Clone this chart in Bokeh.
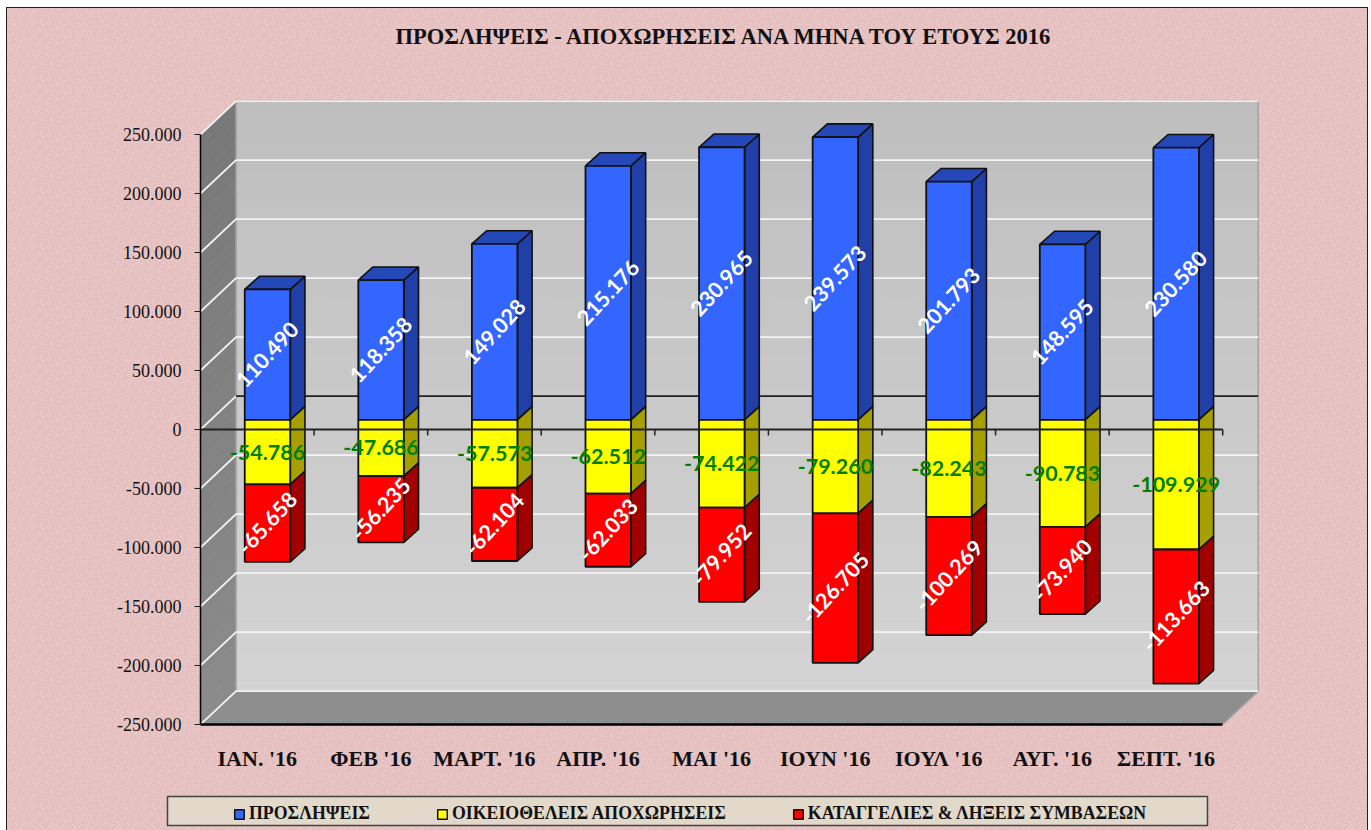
import math
from urllib.parse import quote
from bokeh.plotting import figure
from bokeh.layouts import column
from bokeh.models import Legend, LegendItem, FixedTicker, Title
from bokeh.core.properties import value
from bokeh.embed import file_html
from bokeh.resources import INLINE

title_text = "ΠΡΟΣΛΗΨΕΙΣ - ΑΠΟΧΩΡΗΣΕΙΣ ΑΝΑ ΜΗΝΑ ΤΟΥ ΕΤΟΥΣ 2016"
months = ["ΙΑΝ. '16", "ΦΕΒ '16", "ΜΑΡΤ. '16", "ΑΠΡ. '16", "ΜΑΙ '16", "ΙΟΥΝ '16", "ΙΟΥΛ '16", "ΑΥΓ. '16", "ΣΕΠΤ. '16"]
hires = [110490, 118358, 149028, 215176, 230965, 239573, 201793, 148595, 230580]
resign = [-54786, -47686, -57573, -62512, -74422, -79260, -82243, -90783, -109929]
fired = [-65658, -56235, -62104, -62033, -79952, -126705, -100269, -73940, -113663]
y_ticks = [-250000, -200000, -150000, -100000, -50000, 0, 50000, 100000, 150000, 200000, 250000]
y_labels = ["-250.000", "-200.000", "-150.000", "-100.000", "-50.000", "0", "50.000", "100.000", "150.000", "200.000", "250.000"]
names = ["ΠΡΟΣΛΗΨΕΙΣ", "ΟΙΚΕΙΟΘΕΛΕΙΣ ΑΠΟΧΩΡΗΣΕΙΣ", "ΚΑΤΑΓΓΕΛΙΕΣ & ΛΗΞΕΙΣ ΣΥΜΒΑΣΕΩΝ"]
colors = ["#3366ff", "#ffff00", "#ff0000"]

PX_X = 113.58          # pixels per category
PX_Y = 1.18 / 1000     # pixels per unit of value
DX = 35.5 / PX_X       # depth of the box in x units
DY = 33.3 / PX_Y       # depth of the box in y units
BAR_W = 45.5 / PX_X
BAR_DX = 14.7 / PX_X
BAR_DY = 13.2 / PX_Y
BAR_OFF_X = 10.2 / PX_X
BAR_OFF_Y = 9.7 / PX_Y

OX, OY = 7, 8          # where the panel starts on the page
LEFT, RIGHT, TOP, BOTTOM = 200, 1259, 100, 724
FIG_W, FIG_H = 1360, 780
x_end = (RIGHT - LEFT) / PX_X
y_end = -250000 + (BOTTOM - TOP) / PX_Y

p = figure(width=FIG_W, height=FIG_H, output_backend="svg", toolbar_location=None,
           x_range=(0, x_end), y_range=(-250000, y_end), frame_align=False,
           min_border_left=LEFT - OX, min_border_right=OX + FIG_W - RIGHT,
           min_border_top=TOP - OY, min_border_bottom=OY + FIG_H - BOTTOM,
           background_fill_alpha=0, border_fill_alpha=0, outline_line_alpha=0)

p.grid.visible = False
p.title.text = title_text
p.title.align = "left"
p.title.offset = 195
p.title.vertical_align = "top"
p.title.standoff = 10
p.title.text_font = "Liberation Serif"
p.title.text_font_size = "22.5px"
p.title.text_color = "#111111"
# an empty title between the real one and the frame lifts the real one
p.add_layout(Title(text=" ", text_font_size="39px", standoff=0), "above")

ax = p.yaxis[0]
ax.ticker = FixedTicker(ticks=y_ticks)
ax.major_label_overrides = dict(zip(y_ticks, y_labels))
ax.bounds = (-250000, 250000)
ax.major_label_text_font = "Liberation Serif"
ax.major_label_text_font_size = "18px"
ax.major_label_text_color = "#111111"
ax.major_tick_out = 6
ax.major_tick_in = 0
ax.minor_tick_line_alpha = 0
ax.major_label_standoff = 13
ax.axis_line_width = 1.5
ax.major_tick_line_color = "#222222"

bx = p.xaxis[0]
centers = [i + 0.5 for i in range(len(months))]
bx.ticker = FixedTicker(ticks=centers)
bx.major_label_overrides = dict(zip(centers, months))
bx.bounds = (0, len(months))
bx.major_tick_out = 0
bx.major_tick_in = 0
bx.minor_tick_line_alpha = 0
bx.axis_line_width = 2.5
bx.major_label_standoff = 21
bx.major_label_text_font = "Liberation Serif"
bx.major_label_text_font_style = "bold"
bx.major_label_text_font_size = "22px"
bx.major_label_text_color = "#111111"

n = len(months)
y0, y1 = -250000, 250000
BANDS = 60

def mix(a, b, t):
    return "#%02x%02x%02x" % tuple(round(a[k] + (b[k] - a[k]) * t) for k in range(3))

def band_colors(top, bot):
    return [mix(top, bot, (k + 0.5) / BANDS) for k in range(BANDS)]

edges = [y0 + (y1 - y0) * k / BANDS for k in range(BANDS + 1)]
tops, bots = edges[:0:-1], edges[-2::-1]

# back wall
cols = band_colors((0xbe, 0xbe, 0xbe), (0xd4, 0xd4, 0xd4))
p.quad(left=DX, right=DX + n, bottom=[b + DY for b in bots], top=[t + DY for t in tops],
       fill_color=cols, line_color=cols, line_width=0.6)
# side wall
cols = band_colors((0x78, 0x78, 0x78), (0x8b, 0x8b, 0x8b))
p.patches(xs=[[0, DX, DX, 0] for _ in tops],
          ys=[[t, t + DY, b + DY, b] for t, b in zip(tops, bots)],
          fill_color=cols, line_color=cols, line_width=0.6)
# floor
p.patch([0, n, n + DX, DX], [y0, y0, y0 + DY, y0 + DY], fill_color="#8e8e8e", line_color=None)
# pale edges of the box
p.line([n, n + DX, n + DX, DX, DX, n + DX], [y0, y0 + DY, y1 + DY, y1 + DY, y0 + DY, y0 + DY],
       line_color="#a3a3a3", line_width=1.5)
# grid lines
grid_rows = [t for t in y_ticks if t != 0]
p.multi_line(xs=[[0, DX, DX + n] for _ in grid_rows],
             ys=[[t, t + DY, t + DY] for t in grid_rows],
             line_color="#f4f4f4", line_width=1.8)
p.multi_line(xs=[[0, DX], [DX, DX + n]], ys=[[0, DY], [DY, DY]],
             line_color=["#f4f4f4", "#222222"], line_width=1.8)

# bars
series = [(hires, [0] * n, colors[0], "#2040a8"),
          (resign, [0] * n, colors[1], "#a5a000"),
          (fired, resign, colors[2], "#a00000")]
for idx, (vals, base, front, side) in enumerate(series):
    xl = [i + BAR_OFF_X + 0.5 - BAR_W / 2 for i in range(n)]
    xr = [x + BAR_W for x in xl]
    y_a = [b + BAR_OFF_Y for b in base]
    y_b = [b + v + BAR_OFF_Y for b, v in zip(base, vals)]
    p.patches(xs=[[r, r + BAR_DX, r + BAR_DX, r] for r in xr],
              ys=[[a, a + BAR_DY, b + BAR_DY, b] for a, b in zip(y_a, y_b)],
              fill_color=side, line_color="#111111", line_width=1.6)
    if idx == 0:
        p.patches(xs=[[l, r, r + BAR_DX, l + BAR_DX] for l, r in zip(xl, xr)],
                  ys=[[b, b, b + BAR_DY, b + BAR_DY] for b in y_b],
                  fill_color="#2448b8", line_color="#111111", line_width=1.6)
    p.quad(left=xl, right=xr, bottom=[min(a, b) for a, b in zip(y_a, y_b)],
           top=[max(a, b) for a, b in zip(y_a, y_b)],
           fill_color=front, line_color="#111111", line_width=1.8)

# zero axis on the front plane, with its ticks
p.line([0, n], [0, 0], line_color="#222222", line_width=1.8)
TICK = 6 / PX_Y
p.segment(x0=list(range(n + 1)), y0=[0] * (n + 1), x1=list(range(n + 1)), y1=[-TICK] * (n + 1),
          line_color="#222222", line_width=1.5)

def fmt(v):
    return f"{v:,}".replace(",", ".")

cx = [i + BAR_OFF_X + 0.5 for i in range(n)]
label_font = value("Lato")
label_size = "21.5px"
p.text(x=cx, y=[v / 2 + BAR_OFF_Y for v in hires], text=[fmt(v) for v in hires], angle=math.radians(47),
       text_color="#ffffff", text_font=label_font, text_font_style="bold", text_font_size=label_size,
       text_align="center", text_baseline="middle")
p.text(x=cx, y=[v / 2 + BAR_OFF_Y for v in resign], text=[fmt(v) for v in resign],
       text_color="#008000", text_font=label_font, text_font_style="bold", text_font_size=label_size,
       text_align="center", text_baseline="middle")
p.text(x=cx, y=[r + v / 2 + BAR_OFF_Y for r, v in zip(resign, fired)], text=[fmt(v) for v in fired], angle=math.radians(47),
       text_color="#ffffff", text_font=label_font, text_font_style="bold", text_font_size=label_size,
       text_align="center", text_baseline="middle")

# legend panel: a strip below the chart whose frame is the beige box
BOX_L, BOX_R, BOX_T, BOX_B = 167, 1207, 796, 825
LEG_H = 42
q = figure(width=FIG_W, height=LEG_H, output_backend="svg", toolbar_location=None,
           x_range=(0, 1), y_range=(0, 1), x_axis_location=None, y_axis_location=None, frame_align=False,
           min_border_left=BOX_L - OX, min_border_right=OX + FIG_W - BOX_R,
           min_border_top=BOX_T - OY - FIG_H, min_border_bottom=OY + FIG_H + LEG_H - BOX_B,
           background_fill_color="#e2d9cb", border_fill_alpha=0,
           outline_line_color="#444444", outline_line_width=1.5)
q.grid.visible = False
items = []
for name, c in zip(names, colors):
    # the swatch comes from this renderer; its one box lies outside the strip's range
    r = q.quad(left=[-2], right=[-1], bottom=[-2], top=[-1], fill_color=c, line_color="#111111", line_width=1.5)
    items.append(LegendItem(label=name, renderers=[r]))
legend = Legend(items=items, orientation="horizontal", location=(66, 1),
                padding=0, margin=0, spacing=66, glyph_width=12, glyph_height=12, label_standoff=4,
                background_fill_alpha=0, border_line_alpha=0,
                label_text_font="Liberation Serif", label_text_font_style="bold",
                label_text_font_size="17.8px", label_text_color="#111111")
q.add_layout(legend, "center")

noise = ("<svg xmlns='http://www.w3.org/2000/svg' width='112' height='56'>"
         "<filter id='n'><feTurbulence type='fractalNoise' baseFrequency='0.55' numOctaves='3' stitchTiles='stitch'/>"
         "<feColorMatrix values='0 0 0 0 1  0 0 0 0 1  0 0 0 0 1  0.5 0 0 0 -0.12'/></filter>"
         "<rect width='112' height='56' fill='#e3b9b9'/><rect width='112' height='56' filter='url(#n)'/></svg>")
page = column(p, q, spacing=0, margin=(OY, 1371 - OX - FIG_W, 0, OX))
page.styles = {"background-color": "#e5bcbc",
               "background-image": 'url("data:image/svg+xml,' + quote(noise) + '")',
               "outline": "1.5px solid #222"}

open("out.html", "w").write(file_html(page, INLINE))
